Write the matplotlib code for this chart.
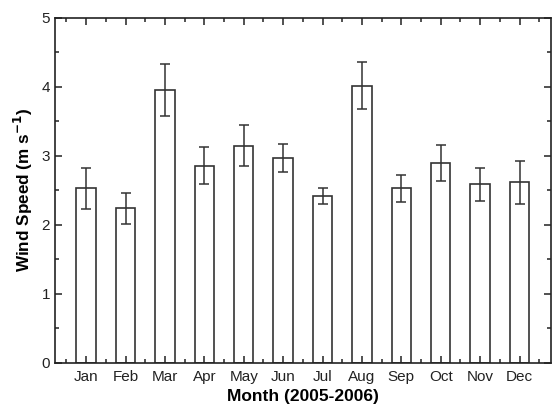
import matplotlib
matplotlib.use("Agg")
import matplotlib.pyplot as plt

plt.rcParams['font.family'] = ['Liberation Sans', 'DejaVu Sans']

# Datos
meses = ['Jan', 'Feb', 'Mar', 'Apr', 'May', 'Jun', 'Jul', 'Aug', 'Sep', 'Oct', 'Nov', 'Dec']
viento = [2.53, 2.24, 3.96, 2.86, 3.15, 2.97, 2.42, 4.02, 2.53, 2.90, 2.59, 2.62]
error = [0.30, 0.22, 0.38, 0.27, 0.30, 0.20, 0.11, 0.34, 0.20, 0.26, 0.24, 0.31]

fig = plt.figure(figsize=(5.52, 4.08), dpi=100)
ax = fig.add_axes([0.0996, 0.1103, 0.898, 0.8456])

x = list(range(1, len(meses) + 1))
ax.bar(x, viento, width=0.49, color='white', edgecolor='#333333', linewidth=1.2,
       yerr=error, capsize=3.5, error_kw=dict(ecolor='#333333', elinewidth=1.1, capthick=1.1))

ax.set_xlim(0.21, 12.79)
ax.set_ylim(0, 5)
ax.set_xticks(x)
ax.set_xticklabels(meses)
ax.set_xticks([i + 0.5 for i in range(0, 13)], minor=True)
ax.set_yticks([0, 1, 2, 3, 4, 5])
ax.set_yticks([0.5, 1.5, 2.5, 3.5, 4.5], minor=True)

ax.tick_params(which='both', direction='in', top=True, right=True, labelsize=11, colors='#222222')
ax.tick_params(which='major', length=5, width=1.1)
ax.tick_params(which='minor', length=3, width=1.1)
ax.tick_params(axis='x', pad=5)
for s in ax.spines.values():
    s.set_linewidth(1.2)
    s.set_color('#222222')

ax.set_xlabel('Month (2005-2006)', fontsize=12.5, fontweight='bold', labelpad=4)
ax.set_ylabel('Wind Speed (m s$^{\\mathbf{-1}}$)', fontsize=12.3, fontweight='bold', labelpad=5)

fig.savefig('out.png', dpi=100)
